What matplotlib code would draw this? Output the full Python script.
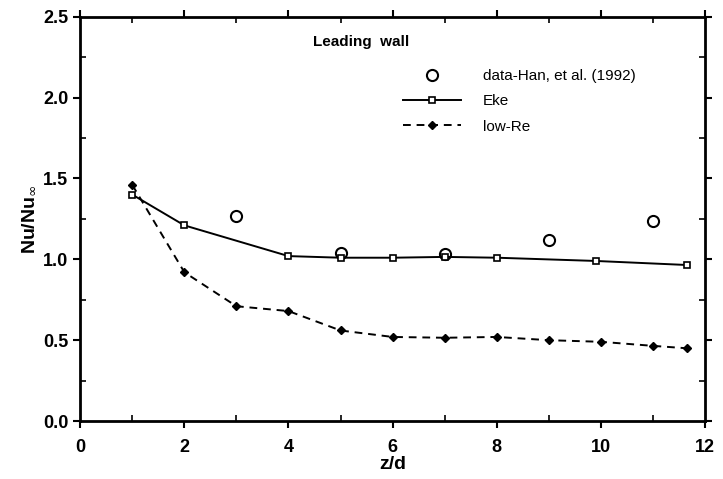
import numpy as np
import matplotlib.pyplot as plt

plt.rcParams['font.family'] = ['Liberation Sans', 'DejaVu Sans']

# measured data (Han et al. 1992)
x_data = [3, 5, 7, 9, 11]
y_data = [1.27, 1.04, 1.03, 1.12, 1.24]

# k-epsilon model
x_eke = [1, 2, 4, 5, 6, 7, 8, 9.9, 11.65]
y_eke = [1.40, 1.21, 1.02, 1.01, 1.01, 1.015, 1.01, 0.99, 0.965]

# low-Re model
x_lowre = [1, 2, 3, 4, 5, 6, 7, 8, 9, 10, 11, 11.65]
y_lowre = [1.46, 0.92, 0.71, 0.68, 0.56, 0.52, 0.515, 0.52, 0.50, 0.49, 0.465, 0.45]

fig = plt.figure(figsize=(7.23, 4.79), dpi=100)
ax = fig.add_axes([0.111, 0.121, 0.864, 0.844])

ax.plot(x_data, y_data, 'o', mfc='white', mec='black', ms=8, mew=1.5,
        color='black', label='data-Han, et al. (1992)')
ax.plot(x_eke, y_eke, '-', color='black', lw=1.4, marker='s', ms=4.5,
        mfc='white', mec='black', mew=1.2, label='Eke')
ax.plot(x_lowre, y_lowre, '--', color='black', lw=1.4, marker='D', ms=4.5,
        mfc='black', mec='black', dashes=(4, 3), label='low-Re')

ax.set_xlim(0, 12)
ax.set_ylim(0, 2.5)
ax.set_xticks(np.arange(0, 13, 2))
ax.set_xticks(np.arange(1, 12, 2), minor=True)
ax.set_yticks(np.arange(0, 2.51, 0.5))
ax.set_yticks(np.arange(0.25, 2.5, 0.5), minor=True)
ax.set_yticklabels(['0.0', '0.5', '1.0', '1.5', '2.0', '2.5'])

ax.tick_params(which='major', direction='out', length=5, width=1.5,
               top=True, right=True, labelsize=13)
ax.tick_params(axis='x', which='major', pad=8)
ax.tick_params(which='minor', direction='in', length=4, width=1.2,
               top=True, right=True)
for lab in ax.get_xticklabels() + ax.get_yticklabels():
    lab.set_fontweight('bold')
for s in ax.spines.values():
    s.set_linewidth(2)

ax.set_xlabel('z/d', fontsize=14, fontweight='bold', labelpad=0)
ax.set_ylabel(r'Nu/Nu$_\infty$', fontsize=14, fontweight='bold', labelpad=4)

ax.text(0.373, 0.955, 'Leading  wall', transform=ax.transAxes, fontsize=11,
        fontweight='bold', va='top')

ax.legend(loc='upper left', bbox_to_anchor=(0.495, 0.905), frameon=False,
          fontsize=11, handlelength=3.8, handletextpad=1.4, labelspacing=0.75,
          numpoints=1)

fig.savefig('out.png', dpi=100)
